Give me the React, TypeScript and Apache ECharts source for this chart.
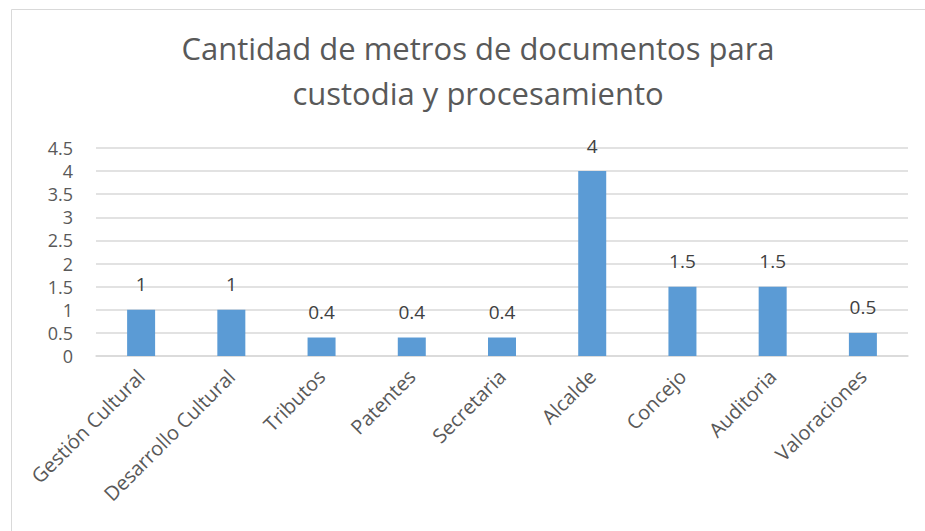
import React, { useEffect, useRef } from "react";
import * as echarts from "echarts";

const categories = [
  "Gestión Cultural",
  "Desarrollo Cultural",
  "Tributos",
  "Patentes",
  "Secretaria",
  "Alcalde",
  "Concejo",
  "Auditoria",
  "Valoraciones",
];
const values = [1, 1, 0.4, 0.4, 0.4, 4, 1.5, 1.5, 0.5];
const titleLines = ["Cantidad de metros de documentos para", "custodia y procesamiento"];

export default function App() {
  const ref = useRef<HTMLDivElement>(null);
  useEffect(() => {
    const chart = echarts.init(ref.current!, null, { renderer: "svg" });
    const font = "'Open Sans', 'Noto Sans', sans-serif";
    chart.setOption({
      animation: false,
      backgroundColor: "#ffffff",
      textStyle: { fontFamily: font },
      title: {
        text: titleLines.join("\n"),
        left: 473,
        textAlign: "center",
        top: 20,
        textStyle: {
          fontFamily: font,
          fontSize: 31,
          fontWeight: "normal",
          color: "#595959",
          lineHeight: 45,
        },
      },
      graphic: [
        {
          type: "rect",
          left: 9,
          top: 7,
          shape: { width: 1000, height: 1000 },
          style: { fill: "none", stroke: "#d9d9d9", lineWidth: 1 },
          silent: true,
        },
      ],
      grid: { left: 96, right: 17, top: 148, bottom: 175, containLabel: false },
      xAxis: {
        type: "category",
        data: categories,
        axisLine: { lineStyle: { color: "#d9d9d9", width: 1.5 } },
        axisTick: { show: false },
        axisLabel: {
          rotate: 45,
          interval: 0,
          margin: 17,
          color: "#595959",
          fontSize: 20,
          fontFamily: font,
        },
      },
      yAxis: {
        type: "value",
        min: 0,
        max: 4.5,
        interval: 0.5,
        axisLine: { show: false },
        axisTick: { show: false },
        splitLine: { lineStyle: { color: "#d9d9d9", width: 1.5 } },
        axisLabel: {
          margin: 23,
          color: "#595959",
          fontSize: 18,
          fontFamily: font,
        },
      },
      series: [
        {
          type: "bar",
          data: values,
          barWidth: 28,
          itemStyle: { color: "#5b9bd5" },
          label: {
            show: true,
            position: "top",
            distance: 16,
            color: "#404040",
            fontSize: 19,
            fontFamily: font,
          },
        },
      ],
    });
    return () => chart.dispose();
  }, []);
  return <div ref={ref} style={{ width: 925, height: 531, position: "absolute", left: 0, top: 0 }} />;
}
